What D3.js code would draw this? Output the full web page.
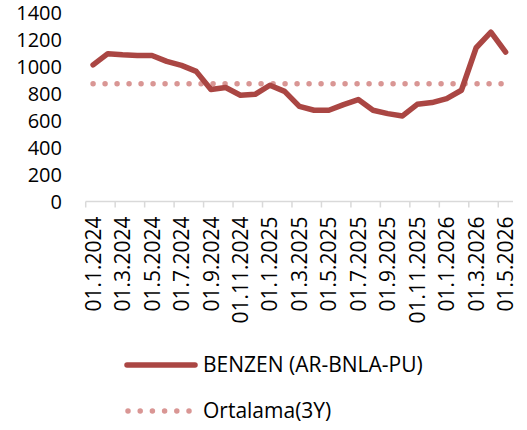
<!DOCTYPE html>
<html>
<head>
<meta charset="utf-8">
<script src="https://cdn.jsdelivr.net/npm/d3@7"></script>
<style>
  body { margin: 0; background: #fff; }
  text { font-family: "Open Sans", sans-serif; fill: #000; }
</style>
</head>
<body>
<div id="chart"></div>
<script>
// monthly categories, Jan 2024 .. May 2026
var months = [
  "01.1.2024","01.2.2024","01.3.2024","01.4.2024","01.5.2024","01.6.2024",
  "01.7.2024","01.8.2024","01.9.2024","01.10.2024","01.11.2024","01.12.2024",
  "01.1.2025","01.2.2025","01.3.2025","01.4.2025","01.5.2025","01.6.2025",
  "01.7.2025","01.8.2025","01.9.2025","01.10.2025","01.11.2025","01.12.2025",
  "01.1.2026","01.2.2026","01.3.2026","01.4.2026","01.5.2026"
];
var benzen = [
  1012, 1095, 1087, 1082, 1082, 1038, 1008, 964, 829, 844, 787, 794,
  861, 816, 705, 676, 676, 718, 755, 676, 651, 634, 720, 733,
  762, 824, 1139, 1254, 1107
];
var average = 872;
var yTicks = [0, 200, 400, 600, 800, 1000, 1200, 1400];
var seriesNames = ["BENZEN (AR-BNLA-PU)", "Ortalama(3Y)"];

var width = 527, height = 430;
var lineColor = "#aa4643", avgColor = "#d99694";

var svg = d3.select("#chart").append("svg")
  .attr("width", width)
  .attr("height", height);

var x = d3.scaleBand().domain(months).range([85.7, 513]);
var y = d3.scaleLinear().domain([0, 1400]).range([201.5, 12.5]);
var cx = d => x(d) + x.bandwidth() / 2;

// y labels (no axis line)
svg.append("g").selectAll("text")
  .data(yTicks)
  .enter().append("text")
    .attr("x", 62)
    .attr("y", d => y(d))
    .attr("dy", "0.35em")
    .attr("text-anchor", "end")
    .style("font-size", "20px")
    .text(d => d);

// x axis line and ticks every 2 months, on category boundaries
var axis = svg.append("g");
axis.append("line")
  .attr("x1", x.range()[0]).attr("x2", x.range()[1])
  .attr("y1", y(0)).attr("y2", y(0))
  .attr("stroke", "#d9d9d9").attr("stroke-width", 1.5);
axis.selectAll(".tick")
  .data(months.filter((d, i) => i % 2 === 0))
  .enter().append("line")
    .attr("class", "tick")
    .attr("x1", d => x(d)).attr("x2", d => x(d))
    .attr("y1", y(0)).attr("y2", y(0) + 6)
    .attr("stroke", "#d9d9d9").attr("stroke-width", 1.5);
axis.selectAll(".lbl")
  .data(months.filter((d, i) => i % 2 === 0))
  .enter().append("text")
    .attr("class", "lbl")
    .attr("transform", d => "translate(" + cx(d) + "," + 216.5 + ") rotate(-90)")
    .attr("dy", "0.36em")
    .attr("text-anchor", "end")
    .style("font-size", "21px")
    .text(d => d);

// average (dotted)
svg.append("line")
  .attr("x1", cx(months[0])).attr("x2", cx(months[months.length - 1]) + 1)
  .attr("y1", y(average)).attr("y2", y(average))
  .attr("stroke", avgColor).attr("stroke-width", 5.5)
  .attr("stroke-linecap", "round")
  .attr("stroke-dasharray", "0 12");

// benzen line
var line = d3.line().x((d, i) => cx(months[i])).y(d => y(d));
svg.append("path")
  .datum(benzen)
  .attr("fill", "none")
  .attr("stroke", lineColor)
  .attr("stroke-width", 5.5)
  .attr("stroke-linejoin", "round")
  .attr("stroke-linecap", "round")
  .attr("d", line);

// legend
var legend = svg.append("g");
legend.append("line")
  .attr("x1", 127).attr("x2", 195).attr("y1", 365).attr("y2", 365)
  .attr("stroke", lineColor).attr("stroke-width", 5.5)
  .attr("stroke-linecap", "round");
legend.append("line")
  .attr("x1", 128).attr("x2", 190).attr("y1", 411).attr("y2", 411)
  .attr("stroke", avgColor).attr("stroke-width", 5.5)
  .attr("stroke-linecap", "round")
  .attr("stroke-dasharray", "0 12.2");
legend.selectAll("text")
  .data(seriesNames)
  .enter().append("text")
    .attr("x", 203)
    .attr("y", (d, i) => 365 + i * 46)
    .attr("dy", "0.35em")
    .style("font-size", "21px")
    .text(d => d);
</script>
</body>
</html>
